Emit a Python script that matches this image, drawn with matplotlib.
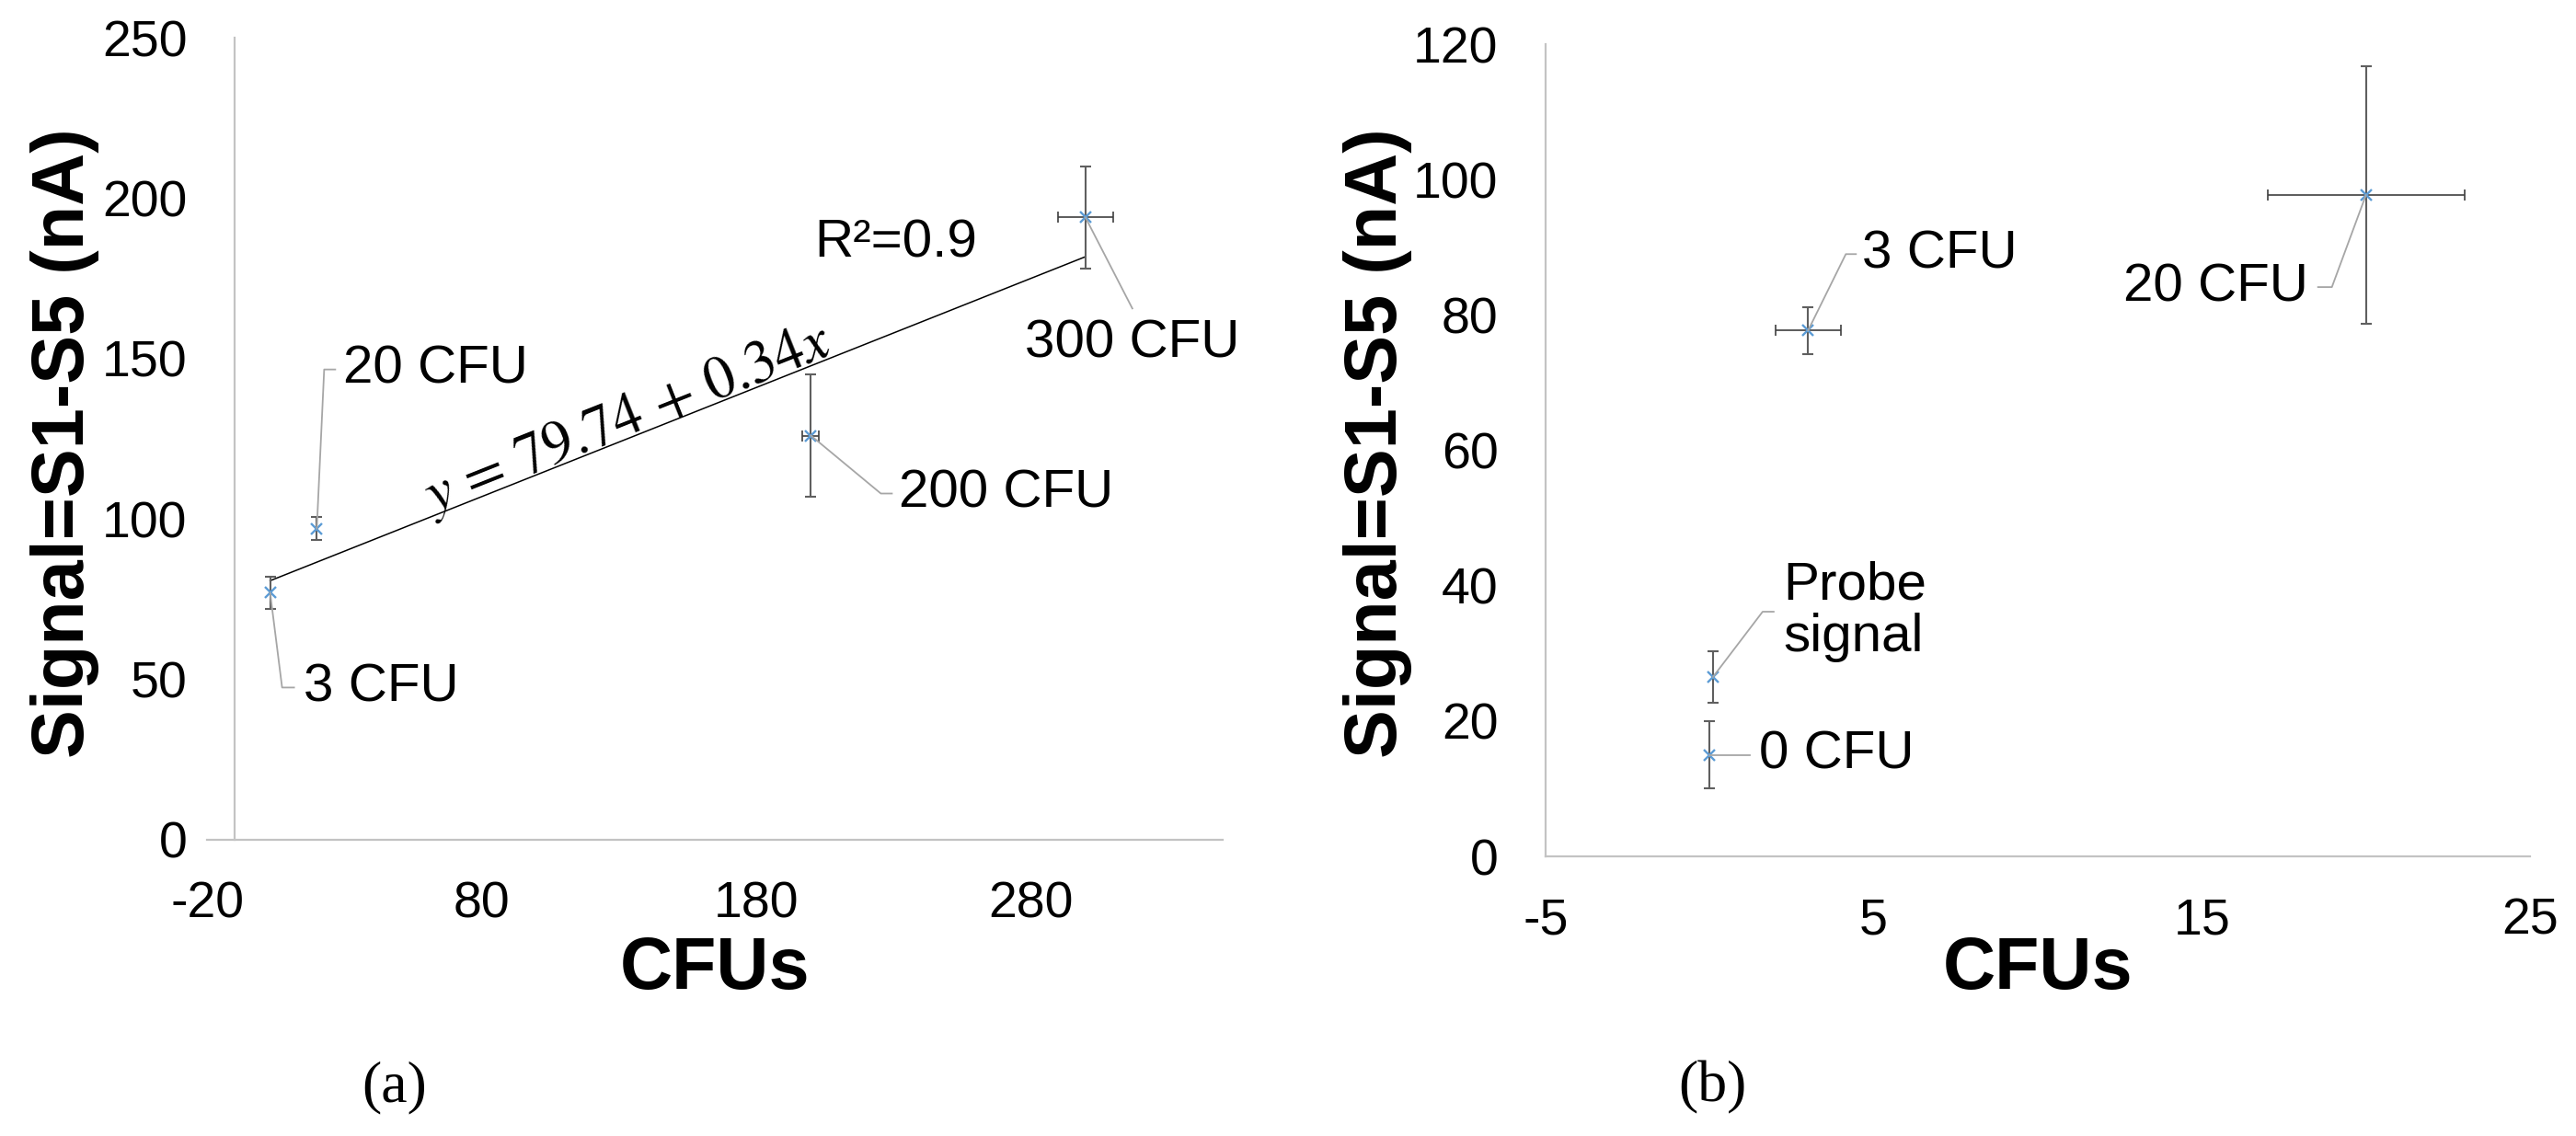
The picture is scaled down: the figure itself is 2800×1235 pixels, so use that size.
import numpy as np
import matplotlib
matplotlib.use("Agg")
import matplotlib.pyplot as plt
from matplotlib.lines import Line2D
from matplotlib.transforms import IdentityTransform

# ── data ────────────────────────────────────────────────────────────────────
# panel (a): 3-300 CFU with linear fit
a_cfu = np.array([3, 20, 200, 300])
a_cfu_err = np.array([0, 0, 3, 10])
a_signal = np.array([77, 97, 126, 194])
a_signal_err = np.array([5, 3.5, 19, 16])
a_labels = ["3 CFU", "20 CFU", "200 CFU", "300 CFU"]
fit_intercept = 79.74
fit_slope = 0.34
r_squared = 0.9

# panel (b): low counts vs probe signal
b_cfu = np.array([0, 0.1, 3, 20])
b_cfu_err = np.array([0, 0, 1, 3])
b_signal = np.array([15, 26.5, 77.7, 97.7])
b_signal_err = np.array([5, 3.8, 3.5, 19])
b_labels = ["0 CFU", "Probe\nsignal", "3 CFU", "20 CFU"]

a_xticks = [-20, 80, 180, 280]
a_yticks = [0, 50, 100, 150, 200, 250]
b_xticks = [-5, 5, 15, 25]
b_yticks = [0, 20, 40, 60, 80, 100, 120]

# ── style ───────────────────────────────────────────────────────────────────
BLUE = "#5B9BD5"
ERR = "#5f5f5f"
LEADER = "#a6a6a6"
SPINE = "#c3c3c3"
TICK_PT = 40
ANNOT_PT = 42
TITLE_PT = 57

plt.rcParams["font.family"] = ["Liberation Sans", "DejaVu Sans"]
plt.rcParams["mathtext.fontset"] = "stix"
plt.rcParams["axes.unicode_minus"] = False

DPI = 100
fig = plt.figure(figsize=(28, 12.35), dpi=DPI)
ax_a = fig.add_axes([0.08036, 0.26073, 0.39428, 0.70607])
ax_b = fig.add_axes([0.6, 0.24615, 0.38214, 0.71498])

# leader-line layout in pixels (dx right, dy down) relative to each point
A_LAYOUT = [
    ([(13, 103), (26, 103)], (36, 103), "left"),
    ([(8, -173), (20, -173)], (29, -173), "left"),
    ([(76, 63), (88, 63)], (96, 63), "left"),
    ([(51, 99)], (51, 137), "center"),
]
B_LAYOUT = [
    ([(44, 0)], (54, 0), "left"),
    ([(54, -71), (66, -71)], (76, -71), "left"),
    ([(41, -83), (52, -83)], (59, -83), "left"),
    ([(-37, 100), (-52, 100)], (-63, 100), "right"),
]


def _style(ax, xlim, ylim, xticks, yticks, cross_x):
    ax.set_xlim(*xlim)
    ax.set_ylim(*ylim)
    ax.set_xticks(xticks)
    ax.set_yticks(yticks)
    for side in ("top", "right"):
        ax.spines[side].set_visible(False)
    for side in ("left", "bottom"):
        ax.spines[side].set_color(SPINE)
        ax.spines[side].set_linewidth(1.6)
    ax.spines["left"].set_position(("data", cross_x))
    ax.tick_params(axis="both", length=0, labelsize=TICK_PT, colors="black")
    ax.tick_params(axis="x", pad=32)
    ax.tick_params(axis="y", pad=37)
    ax.patch.set_alpha(0)


def _points(ax, x, xerr, y, yerr):
    ax.errorbar(x, y, yerr=yerr, fmt="none", ecolor=ERR, elinewidth=1.5,
                capsize=4.5, capthick=1.5, zorder=3)
    m = xerr > 0
    ax.errorbar(x[m], y[m], xerr=xerr[m], fmt="none", ecolor="#404040",
                elinewidth=1.2, capsize=4.5, capthick=1.2, zorder=3)
    ax.plot(x, y, "x", color=BLUE, ms=9, mew=1.7, zorder=4)


def _labels(ax, x, y, labels, layout):
    for xi, yi, text, (path, (tx, ty), ha) in zip(x, y, labels, layout):
        px, py = ax.transData.transform((xi, yi))
        xs = [px] + [px + dx for dx, _ in path]
        ys = [py] + [py - dy for _, dy in path]
        fig.add_artist(Line2D(xs, ys, transform=IdentityTransform(),
                              color=LEADER, lw=1.3, zorder=2))
        ax.annotate(text, xy=(xi, yi), xytext=(tx, -ty),
                    textcoords="offset pixels", ha=ha, va="center",
                    fontsize=ANNOT_PT, linespacing=1.05)


# ── panel (a) ───────────────────────────────────────────────────────────────
_style(ax_a, (-20, 350), (0, 250), a_xticks, a_yticks, cross_x=-10)
fit_x = np.array([a_cfu[0], a_cfu[-1]])
ax_a.plot(fit_x, fit_intercept + fit_slope * fit_x, color="black", lw=1.1, zorder=2)
_points(ax_a, a_cfu, a_cfu_err, a_signal, a_signal_err)
_labels(ax_a, a_cfu, a_signal, a_labels, A_LAYOUT)

# equation along the trend line
p0 = ax_a.transData.transform((fit_x[0], fit_intercept + fit_slope * fit_x[0]))
p1 = ax_a.transData.transform((fit_x[1], fit_intercept + fit_slope * fit_x[1]))
angle = np.degrees(np.arctan2(p1[1] - p0[1], p1[0] - p0[0]))
eq_x = 134
ax_a.annotate(rf"$y\,=\,{fit_intercept}\,+\,{fit_slope}x$",
              xy=(eq_x, fit_intercept + fit_slope * eq_x), xytext=(-2, 20),
              textcoords="offset pixels", ha="center", va="center",
              rotation=angle, rotation_mode="anchor", fontsize=46)
ax_a.annotate(f"R²={r_squared}", xy=(fit_x[1], fit_intercept + fit_slope * fit_x[1]),
              xytext=(-206, 15), textcoords="offset pixels",
              ha="center", va="center", fontsize=ANNOT_PT)

# ── panel (b) ───────────────────────────────────────────────────────────────
_style(ax_b, (-5, 25), (0, 120), b_xticks, b_yticks, cross_x=-5)
_points(ax_b, b_cfu, b_cfu_err, b_signal, b_signal_err)
_labels(ax_b, b_cfu, b_signal, b_labels, B_LAYOUT)

# axis titles and captions
H = 1235.0
W = 2800.0
for xc in (777, 2215):
    fig.text(xc / W, 1 - 1055 / H, "CFUs", ha="center", va="center",
             fontsize=TITLE_PT, fontweight="bold")
for xc in (71, 1497):
    fig.text(xc / W, 1 - 482 / H, "Signal=S1-S5 (nA)", ha="center", va="center",
             rotation=90, fontsize=TITLE_PT, fontweight="bold")
for xc, cap in ((429, "(a)"), (1861, "(b)")):
    fig.text(xc / W, 1 - 1182 / H, cap, ha="center", va="center",
             fontsize=46, family=["Liberation Serif", "DejaVu Serif"])

fig.savefig("out.png", dpi=DPI, facecolor="white")
